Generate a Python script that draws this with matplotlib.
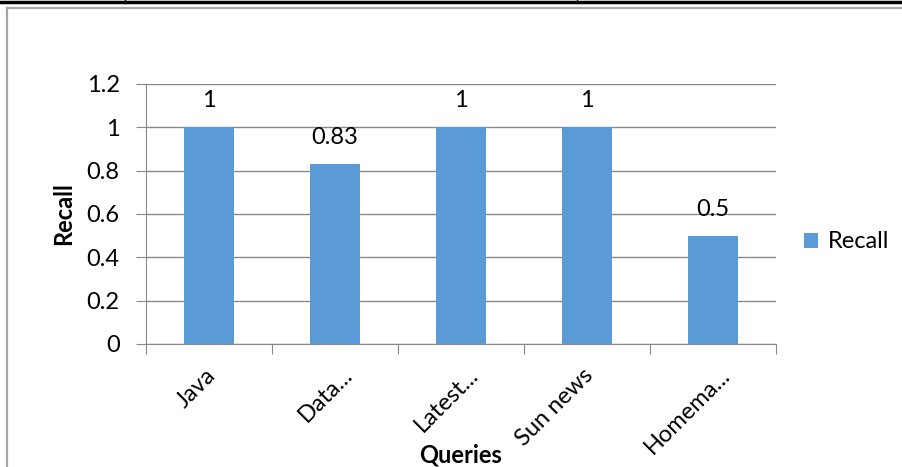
import matplotlib
matplotlib.use("Agg")
import matplotlib.pyplot as plt
from matplotlib.lines import Line2D
import numpy as np

queries = ["Java", "Data...", "Latest...", "Sun news", "Homema..."]
recall = [1, 0.83, 1, 1, 0.5]
value_labels = ["1", "0.83", "1", "1", "0.5"]
y_ticks = [0, 0.2, 0.4, 0.6, 0.8, 1, 1.2]
y_tick_labels = ["0", "0.2", "0.4", "0.6", "0.8", "1", "1.2"]

plt.rcParams["font.family"] = ["Lato", "DejaVu Sans"]
BAR = "#5b9bd5"
GRID = "#888888"
FS = 17
W, H = 903, 467

fig = plt.figure(figsize=(W / 100, H / 100), dpi=100)
ax = fig.add_axes([146 / W, 1 - 344 / H, (776 - 146) / W, (344 - 84) / H])

x = np.arange(len(queries))
bars = ax.bar(x, recall, 0.4, color=BAR, label="Recall", zorder=3)
for b, t in zip(bars, value_labels):
    ax.annotate(t, (b.get_x() + b.get_width() / 2, b.get_height()), xytext=(0, 19),
                textcoords="offset points", ha="center", va="center", fontsize=FS, zorder=4)

ax.set_xlim(-0.5, len(queries) - 0.5)
ax.set_ylim(0, 1.2)
ax.set_yticks(y_ticks)
ax.set_yticklabels(y_tick_labels, fontsize=FS)
ax.yaxis.grid(True, color=GRID, lw=1)
ax.set_axisbelow(True)

# category boundary ticks on the x axis, names drawn under each bar
ax.set_xticks(np.arange(len(queries) + 1) - 0.5)
ax.set_xticklabels([])
ax.tick_params(axis="x", length=7, color=GRID, direction="out")
ax.tick_params(axis="y", length=7, color=GRID, pad=12)
for i, q in enumerate(queries):
    # truncated names sit a little further right, like the spreadsheet output
    dx = 10 if q.endswith("...") else 2
    ax.annotate(q, (i, 0), xycoords=ax.get_xaxis_transform(), xytext=(dx, -20),
                textcoords="offset points", rotation=45, ha="right", va="center",
                rotation_mode="anchor", fontsize=FS)

for s in ["top", "right"]:
    ax.spines[s].set_visible(False)
ax.spines["left"].set_color(GRID)
ax.spines["bottom"].set_color(GRID)

ax.set_ylabel("Recall", fontsize=FS, fontweight="bold", labelpad=8)
fig.text(461 / W, 1 - 455 / H, "Queries", fontsize=FS, fontweight="bold", ha="center", va="center")

ax.legend(loc="center left", bbox_to_anchor=(804 / W, 1 - 242 / H), bbox_transform=fig.transFigure,
          frameon=False, fontsize=FS, handlelength=0.6, handleheight=0.6, handletextpad=0.4,
          borderaxespad=0, borderpad=0)

# page frame and table rule above the chart
fig.add_artist(Line2D([0, 1], [1 - 1.5 / H] * 2, transform=fig.transFigure, color="black", lw=2.5))
for xv in (125, 577):
    fig.add_artist(Line2D([xv / W] * 2, [1, 1 - 3 / H], transform=fig.transFigure, color="black", lw=1))
fig.add_artist(Line2D([7 / W, 1], [1 - 8 / H] * 2, transform=fig.transFigure, color="#a6a6a6", lw=1.6))
fig.add_artist(Line2D([7 / W] * 2, [1 - 8 / H, 0], transform=fig.transFigure, color="#a6a6a6", lw=1.6))

fig.savefig("out.png", dpi=100)
